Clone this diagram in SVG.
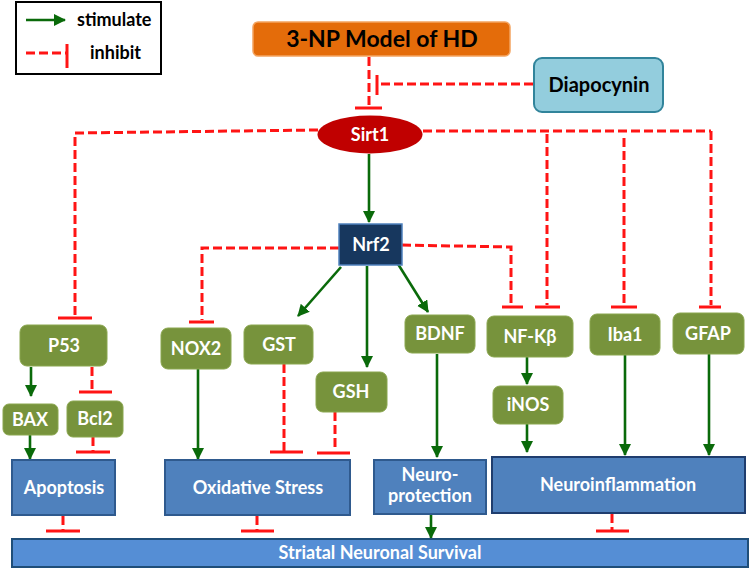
<svg xmlns="http://www.w3.org/2000/svg" width="749" height="570" viewBox="0 0 749 570">
<defs>
<marker id="ah" markerUnits="userSpaceOnUse" markerWidth="12" markerHeight="12" viewBox="0 0 12 12" refX="11" refY="6" orient="auto">
<path d="M0,0 L12,6 L0,12 Z" fill="#0A6A0A"/>
</marker>
<style>
.g{stroke:#0A6A0A;stroke-width:2.6;fill:none;marker-end:url(#ah)}
.d{stroke:#FF1414;stroke-width:3;fill:none;stroke-dasharray:9 4}
.b{stroke:#FF1414;stroke-width:3;fill:none}
.gn{fill:#77933C;stroke:#8AA64E;stroke-width:1}
.bl{fill:#4F81BD;stroke:#2F5A8E;stroke-width:2}
.t{font-family:Lato,"Liberation Sans",sans-serif;font-weight:700;text-anchor:middle}
.w{fill:#FFFFFF;font-size:18px}
</style>
</defs>

<g id="legend">
<rect x="16" y="2" width="145" height="72" fill="#FFFFFF" stroke="#000000" stroke-width="2"/>
<line x1="26" y1="20" x2="65" y2="20" class="g"/>
<text x="77" y="26" class="t" style="text-anchor:start;font-size:18px">stimulate</text>
<line x1="26" y1="53" x2="66" y2="53" class="d"/>
<line x1="67" y1="44" x2="67" y2="68" class="b"/>
<text x="90" y="59" class="t" style="text-anchor:start;font-size:18px">inhibit</text>
</g>

<g id="connectors">
<line x1="369" y1="57" x2="369" y2="107" class="d"/>
<line x1="355" y1="108" x2="382" y2="108" class="b"/>
<line x1="533" y1="84" x2="379" y2="84" class="d"/>
<line x1="377" y1="75" x2="377" y2="95" class="b"/>
<polyline points="318,130 75,133 75,316" class="d"/>
<line x1="58" y1="318" x2="92" y2="318" class="b"/>
<line x1="423" y1="131" x2="711" y2="131" class="d"/>
<line x1="547" y1="134" x2="547" y2="305" class="d"/>
<line x1="535" y1="307" x2="560" y2="307" class="b"/>
<line x1="624" y1="138" x2="624" y2="305" class="d"/>
<line x1="611" y1="307" x2="637" y2="307" class="b"/>
<line x1="711" y1="131" x2="711" y2="305" class="d"/>
<line x1="699" y1="307" x2="721" y2="307" class="b"/>
<line x1="369" y1="154" x2="369" y2="222" class="g"/>
<polyline points="339,248 202,248 202,320" class="d"/>
<line x1="189" y1="322" x2="214" y2="322" class="b"/>
<polyline points="402,245 511,247 511,305" class="d"/>
<line x1="502" y1="307" x2="523" y2="307" class="b"/>
<line x1="341" y1="267" x2="298" y2="316" class="g"/>
<line x1="367" y1="266" x2="367" y2="367" class="g"/>
<line x1="398" y1="264" x2="428" y2="312" class="g"/>
<line x1="31" y1="367" x2="31" y2="396" class="g"/>
<line x1="92" y1="367" x2="92" y2="390" class="d"/>
<line x1="79" y1="392" x2="112" y2="392" class="b"/>
<line x1="30" y1="435" x2="30" y2="459" class="g"/>
<line x1="93" y1="437" x2="93" y2="451" class="d"/>
<line x1="76" y1="452" x2="110" y2="452" class="b"/>
<line x1="198" y1="369" x2="198" y2="459" class="g"/>
<line x1="284" y1="364" x2="284" y2="451" class="d"/>
<line x1="270" y1="452" x2="303" y2="452" class="b"/>
<line x1="335" y1="412" x2="335" y2="451" class="d"/>
<line x1="317" y1="453" x2="350" y2="453" class="b"/>
<line x1="437" y1="354" x2="437" y2="457" class="g"/>
<line x1="527" y1="357" x2="527" y2="384" class="g"/>
<line x1="527" y1="424" x2="527" y2="452" class="g"/>
<line x1="625" y1="355" x2="625" y2="455" class="g"/>
<line x1="709" y1="354" x2="709" y2="455" class="g"/>
<line x1="63" y1="516" x2="63" y2="530" class="d"/>
<line x1="46" y1="531" x2="80" y2="531" class="b"/>
<line x1="257" y1="516" x2="257" y2="530" class="d"/>
<line x1="241" y1="531" x2="274" y2="531" class="b"/>
<line x1="431" y1="515" x2="431" y2="538" class="g"/>
<line x1="612" y1="514" x2="612" y2="530" class="d"/>
<line x1="596" y1="531" x2="629" y2="531" class="b"/>
</g>

<g id="np3">
<rect x="253" y="22" width="257" height="34" rx="5" fill="#E46C0A" stroke="#F4A460" stroke-width="1.5"/>
<text x="382" y="47" class="t" style="font-size:23px;fill:#000000">3-NP Model of HD</text>
</g>
<g id="diapocynin">
<rect x="534" y="58" width="129" height="54" rx="8" fill="#93CDDD" stroke="#31849B" stroke-width="2"/>
<text x="599" y="92" class="t" style="font-size:20px;fill:#000000">Diapocynin</text>
</g>
<g id="sirt1">
<ellipse cx="370" cy="134.5" rx="52.5" ry="19" fill="#C00000"/>
<text x="370" y="141" class="t w">Sirt1</text>
</g>
<g id="nrf2">
<rect x="339" y="224" width="63" height="41" fill="#17375E" stroke="#4F81BD" stroke-width="1.5"/>
<text x="371" y="251" class="t w">Nrf2</text>
</g>

<g id="p53"><rect x="20" y="325" width="87" height="41" rx="7" class="gn"/><text x="64" y="352" class="t w">P53</text></g>
<g id="bax"><rect x="3" y="404" width="55" height="31" rx="6" class="gn"/><text x="30" y="426" class="t w">BAX</text></g>
<g id="bcl2"><rect x="67" y="401" width="56" height="36" rx="6" class="gn"/><text x="95" y="425" class="t w">Bcl2</text></g>
<g id="nox2"><rect x="161" y="328" width="70" height="41" rx="7" class="gn"/><text x="196" y="355" class="t w">NOX2</text></g>
<g id="gst"><rect x="244" y="325" width="69" height="39" rx="7" class="gn"/><text x="279" y="351" class="t w">GST</text></g>
<g id="gsh"><rect x="316" y="372" width="71" height="40" rx="7" class="gn"/><text x="351" y="398" class="t w">GSH</text></g>
<g id="bdnf"><rect x="405" y="315" width="70" height="38" rx="7" class="gn"/><text x="440" y="340" class="t w">BDNF</text></g>
<g id="nfkb"><rect x="487" y="316" width="86" height="41" rx="7" class="gn"/><text x="530" y="343" class="t w">NF-Κβ</text></g>
<g id="inos"><rect x="493" y="386" width="70" height="38" rx="7" class="gn"/><text x="528" y="411" class="t w">iNOS</text></g>
<g id="iba1"><rect x="590" y="314" width="70" height="41" rx="7" class="gn"/><text x="625" y="341" class="t w">Iba1</text></g>
<g id="gfap"><rect x="673" y="313" width="71" height="41" rx="7" class="gn"/><text x="708" y="340" class="t w">GFAP</text></g>

<g id="apoptosis"><rect x="12" y="460" width="103" height="55" class="bl"/><text x="64" y="494" class="t w">Apoptosis</text></g>
<g id="oxidative"><rect x="165" y="460" width="185" height="55" class="bl"/><text x="258" y="494" class="t w">Oxidative Stress</text></g>
<g id="neuroprotection"><rect x="374" y="460" width="112" height="54" class="bl"/><text x="430" y="481" class="t w">Neuro-</text><text x="430" y="502" class="t w">protection</text></g>
<g id="neuroinflammation"><rect x="492" y="457" width="253" height="56" fill="#4F81BD" stroke="#1F3D6E" stroke-width="2"/><text x="618" y="491" class="t w">Neuroinflammation</text></g>
<g id="survival"><rect x="12" y="539" width="736" height="28" fill="#558ED5" stroke="#1F4E79" stroke-width="2"/><text x="380" y="559" class="t w">Striatal Neuronal Survival</text></g>
</svg>
